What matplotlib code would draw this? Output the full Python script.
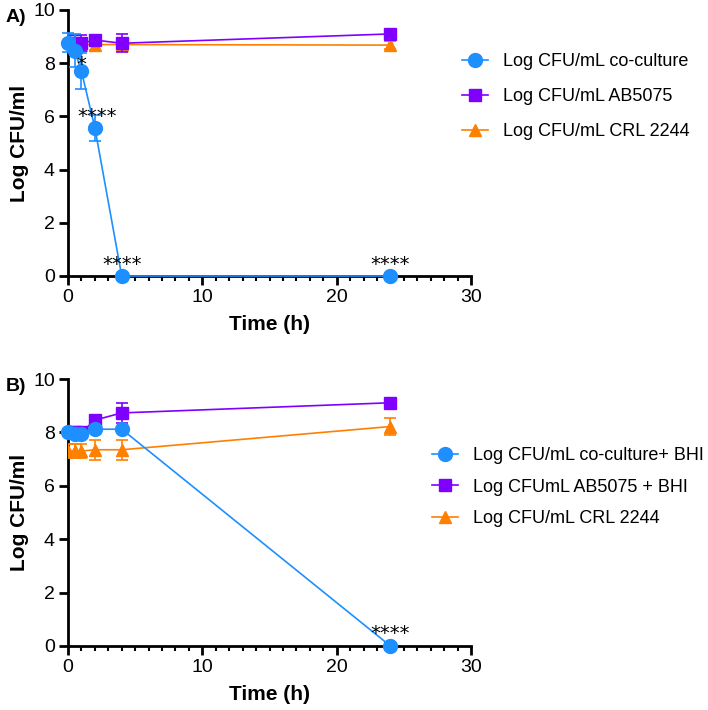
import matplotlib
matplotlib.use('Agg')
import matplotlib.pyplot as plt
import numpy as np

plt.rcParams['font.family'] = ['Liberation Sans', 'DejaVu Sans']

time_h = [0, 0.5, 1, 2, 4, 24]

# Panel A
a_co = [8.77, 8.47, 7.70, 5.57, 0, 0]
a_co_err = [0.35, 0.62, 0.67, 0.5, 0, 0]
a_ab = [8.75, 8.75, 8.75, 8.87, 8.75, 9.10]
a_ab_err = [0.3, 0.3, 0.3, 0.1, 0.33, 0.05]
a_crl = [8.70, 8.70, 8.70, 8.70, 8.70, 8.68]
a_crl_err = [0.15, 0.15, 0.15, 0.2, 0.15, 0.15]
a_labels = ['Log CFU/mL co-culture', 'Log CFU/mL AB5075', 'Log CFU/mL CRL 2244']
a_stars = [(1, 7.95, '*'), (2.2, 6.0, '****'), (4, 0.45, '****'), (24, 0.45, '****')]

# Panel B
b_co = [8.0, 7.95, 7.95, 8.12, 8.12, 0]
b_co_err = [0.05, 0.05, 0.05, 0.05, 0.05, 0]
b_ab = [8.0, 8.0, 8.0, 8.46, 8.73, 9.11]
b_ab_err = [0.05, 0.05, 0.05, 0.1, 0.38, 0.05]
b_crl = [7.3, 7.3, 7.3, 7.35, 7.35, 8.22]
b_crl_err = [0.27, 0.27, 0.27, 0.38, 0.38, 0.33]
b_labels = ['Log CFU/mL co-culture+ BHI', 'Log CFUmL AB5075 + BHI', 'Log CFU/mL CRL 2244']
b_stars = [(24, 0.45, '****')]

blue = '#1E8FFF'
purple = '#8000FF'
orange = '#FF8000'

fig = plt.figure(figsize=(7.08, 7.10), dpi=100)
ax1 = fig.add_axes([68/708, (710-276)/710, (471-68)/708, 266/710])
ax2 = fig.add_axes([68/708, (710-646)/710, (471-68)/708, 267/710])


def draw(ax, co, co_err, ab, ab_err, crl, crl_err, stars):
    h3 = ax.errorbar(time_h, crl, yerr=crl_err, color=orange, marker='^', ms=9,
                     lw=1.2, capsize=4.5, elinewidth=1.2, capthick=1.2, zorder=3)
    h2 = ax.errorbar(time_h, ab, yerr=ab_err, color=purple, marker='s', ms=8,
                     lw=1.2, capsize=4.5, elinewidth=1.2, capthick=1.2, zorder=4)
    h1 = ax.errorbar(time_h, co, yerr=co_err, color=blue, marker='o', ms=10,
                     lw=1.2, capsize=4.5, elinewidth=1.2, capthick=1.2, zorder=5,
                     clip_on=False)
    for x, y, s in stars:
        ax.text(x, y, s, ha='center', va='center', fontsize=14,
                family='DejaVu Sans', zorder=6)
    ax.set_xlim(0, 30)
    ax.set_ylim(0, 10)
    ax.set_xticks([0, 10, 20, 30])
    ax.set_xticks(np.arange(0, 31, 1), minor=True)
    ax.set_yticks([0, 2, 4, 6, 8, 10])
    ax.spines['top'].set_visible(False)
    ax.spines['right'].set_visible(False)
    ax.spines['left'].set_linewidth(2)
    ax.spines['bottom'].set_linewidth(2)
    ax.tick_params(axis='both', which='major', length=6.5, width=2, labelsize=14, pad=3)
    ax.tick_params(axis='x', which='minor', length=3.6, width=1.5)
    ax.set_xlabel('Time (h)', fontsize=15, fontweight='bold', labelpad=6)
    ax.set_ylabel('Log CFU/ml', fontsize=15, fontweight='bold', labelpad=3)
    return [h1[0], h2[0], h3[0]]


hs = draw(ax1, a_co, a_co_err, a_ab, a_ab_err, a_crl, a_crl_err, a_stars)
fig.legend(hs, a_labels, loc='upper left', bbox_to_anchor=(455/708, 1 - 46/710),
           frameon=False, fontsize=13, handlelength=1.4, handletextpad=0.85,
           labelspacing=1.0, borderaxespad=0)
hs = draw(ax2, b_co, b_co_err, b_ab, b_ab_err, b_crl, b_crl_err, b_stars)
fig.legend(hs, b_labels, loc='upper left', bbox_to_anchor=(425/708, 1 - 440/710),
           frameon=False, fontsize=13, handlelength=1.4, handletextpad=0.85,
           labelspacing=0.8, borderaxespad=0)

fig.text(6/708, 1 - 18/710, 'A)', fontsize=14, fontweight='bold', va='center')
fig.text(6/708, 1 - 386/710, 'B)', fontsize=14, fontweight='bold', va='center')

fig.savefig('out.png', dpi=100)
